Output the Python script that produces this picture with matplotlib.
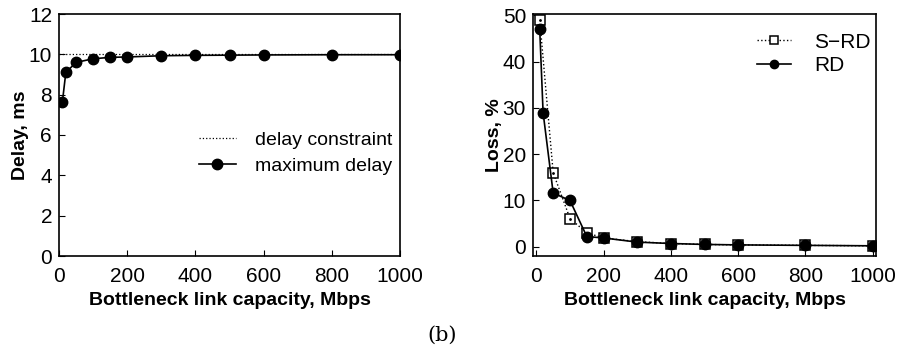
import matplotlib.pyplot as plt

capacity = [10, 20, 50, 100, 150, 200, 300, 400, 500, 600, 800, 1000]
max_delay = [7.65, 9.1, 9.6, 9.78, 9.85, 9.87, 9.93, 9.95, 9.96, 9.97, 9.98, 9.98]

srd_cap = [10, 50, 100, 150, 200, 300, 400, 500, 600, 800, 1000]
srd_loss = [49, 16, 6.1, 3.0, 1.9, 1.1, 0.7, 0.5, 0.4, 0.3, 0.2]
rd_loss = [47, 29, 11.6, 10, 2.2, 1.9, 1.0, 0.7, 0.5, 0.4, 0.3, 0.2]

plt.rcParams['font.family'] = ['Liberation Sans', 'DejaVu Sans']

fig = plt.figure(figsize=(8.97, 3.49), dpi=100)
W, H = 897, 349

ax1 = fig.add_axes([59 / W, 1 - 256 / H, (400 - 59) / W, (256 - 14) / H])
ax2 = fig.add_axes([533 / W, 1 - 256 / H, (876 - 533) / W, (256 - 14) / H])

ax1.axhline(10, color='black', linestyle=':', linewidth=0.9, label='delay constraint')
ax1.plot(capacity, max_delay, color='black', linewidth=1.2, marker='o', markersize=7.5,
         label='maximum delay')
ax1.set_xlim(0, 1000)
ax1.set_ylim(0, 12)
ax1.set_xticks([0, 200, 400, 600, 800, 1000])
ax1.set_yticks([0, 2, 4, 6, 8, 10, 12])
ax1.set_xlabel('Bottleneck link capacity, Mbps', fontsize=14, fontweight='bold', labelpad=4)
ax1.set_ylabel('Delay, ms', fontsize=14, fontweight='bold', labelpad=0)
ax1.legend(loc='center right', bbox_to_anchor=(1.03, 0.425), frameon=False, fontsize=14,
           handlelength=1.9, labelspacing=0.45, handletextpad=1.0)

# S-RD: open squares with a dot in the middle
ax2.plot(srd_cap, srd_loss, color='black', linestyle=':', linewidth=1.0, marker='s', markersize=6.5,
         markerfacecolor='white', markeredgewidth=1.1, label='S\u2212RD')
ax2.plot(srd_cap, srd_loss, color='black', linestyle='none', marker='.', markersize=2)
ax2.plot(capacity, rd_loss, color='black', linewidth=1.2, marker='o', markersize=7.5, label='RD')
ax2.set_xlim(-10, 1010)
ax2.set_ylim(-2, 50.3)
ax2.set_xticks([0, 200, 400, 600, 800, 1000])
ax2.set_yticks([0, 10, 20, 30, 40, 50])
ax2.set_xlabel('Bottleneck link capacity, Mbps', fontsize=14, fontweight='bold', labelpad=4)
ax2.set_ylabel('Loss, %', fontsize=14, fontweight='bold', labelpad=0)
ax2.legend(loc='upper right', bbox_to_anchor=(1.04, 1.0), frameon=False, fontsize=15,
           handlelength=1.6, labelspacing=0.2, handletextpad=1.15, markerscale=0.8)

for ax in (ax1, ax2):
    ax.tick_params(direction='in', length=4, width=0.8, labelsize=15, pad=8)
    ax.tick_params(axis='y', pad=5)
    for s in ax.spines.values():
        s.set_linewidth(1.2)

fig.text(442 / W, 1 - 335 / H, '(b)', ha='center', va='center', fontsize=15, family='DejaVu Serif')

fig.savefig('out.png', dpi=100)
